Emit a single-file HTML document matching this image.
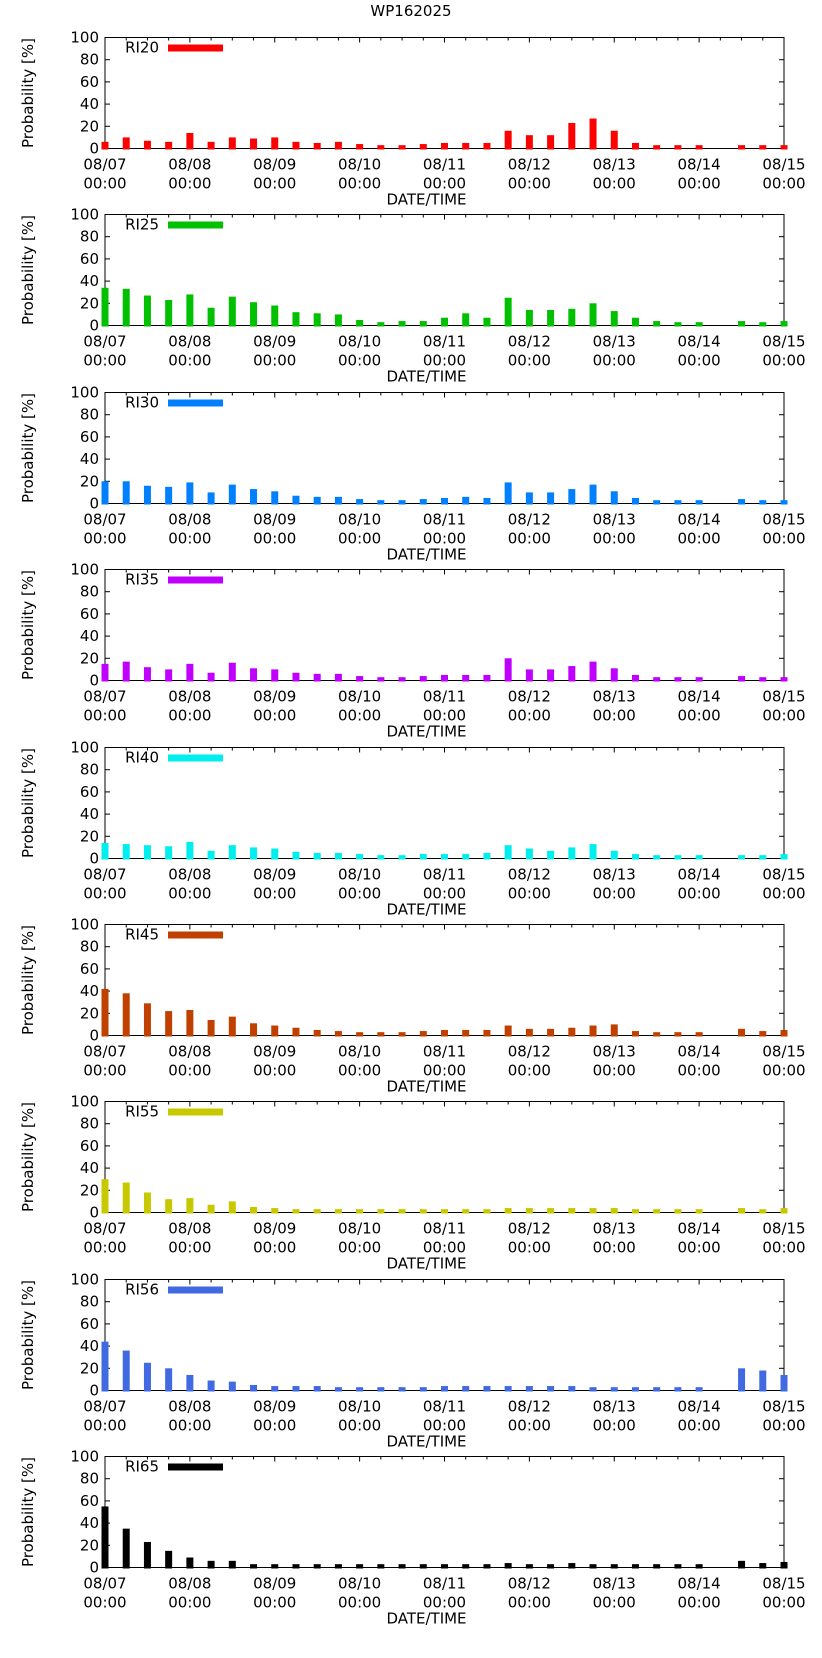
<!DOCTYPE html>
<html><head><meta charset="utf-8"><style>
body{margin:0;background:#fff;}
svg text{font-family:"DejaVu Sans","Liberation Sans",sans-serif;fill:#000;}
</style></head><body>
<svg id="c" width="822" height="1653" xmlns="http://www.w3.org/2000/svg">
<text x="411" y="16" font-size="15" text-anchor="middle">WP162025</text>
</svg>
<script>
const categories = ["08/07 00:00","08/08 00:00","08/09 00:00","08/10 00:00","08/11 00:00","08/12 00:00","08/13 00:00","08/14 00:00","08/15 00:00"];
const yTicks = [0,20,40,60,80,100];
const seriesNames = ["RI20","RI25","RI30","RI35","RI40","RI45","RI55","RI56","RI65"];
const seriesColors = ["#ff0000","#00c000","#0080ff","#c000ff","#00eeee","#c04000","#c8c800","#4169e1","#000000"];
const ri20 = [6,10,7,6,14,6,10,9,10,6,5,6,4,3,3,4,5,5,5,16,12,12,23,27,16,5,3,3,3,null,3,3,3];
const ri25 = [34,33,27,23,28,16,26,21,18,12,11,10,5,3,4,4,7,11,7,25,14,14,15,20,13,7,4,3,3,null,4,3,4];
const ri30 = [20,20,16,15,19,10,17,13,11,7,6,6,4,3,3,4,5,6,5,19,10,10,13,17,11,5,3,3,3,null,4,3,3];
const ri35 = [15,17,12,10,15,7,16,11,10,7,6,6,4,3,3,4,5,5,5,20,10,10,13,17,11,5,3,3,3,null,4,3,3];
const ri40 = [14,13,12,11,15,7,12,10,9,6,5,5,4,3,3,4,4,4,5,12,9,7,10,13,7,4,3,3,3,null,3,3,4];
const ri45 = [42,38,29,22,23,14,17,11,9,7,5,4,3,3,3,4,5,5,5,9,6,6,7,9,10,4,3,3,3,null,6,4,5];
const ri55 = [30,27,18,12,13,7,10,5,4,3,3,3,3,3,3,3,3,3,3,4,4,4,4,4,4,3,3,3,3,null,4,3,4];
const ri56 = [44,36,25,20,14,9,8,5,4,4,4,3,3,3,3,3,4,4,4,4,4,4,4,3,3,3,3,3,3,null,20,18,14];
const ri65 = [55,35,23,15,9,6,6,3,3,3,3,3,3,3,3,3,3,3,3,4,3,3,4,3,3,3,3,3,3,null,6,4,5];
const allSeries = [ri20,ri25,ri30,ri35,ri40,ri45,ri55,ri56,ri65];

const NS="http://www.w3.org/2000/svg";
const svg=document.getElementById('c');
const L=105,R=784,PH=111,TOP0=37,STEP=177.4,NSLOT=32;
function xScale(i){return L+(R-L)*i/NSLOT;}
function mk(tag,attrs,parent){const e=document.createElementNS(NS,tag);for(const k in attrs)e.setAttribute(k,attrs[k]);(parent||svg).appendChild(e);return e;}

seriesNames.forEach((name,p)=>{
  const top=Math.round(TOP0+p*STEP)+0.5, bot=top+PH;
  const yScale=v=>bot-v/100*PH;
  const g=mk('g',{});
  
  
  const fr=mk('rect',{x:L,y:top,width:R-L,height:PH,fill:'none',stroke:'#000','stroke-width':1},g);
  
  
  yTicks.forEach(t=>{
    const y=yScale(t);
    mk('line',{x1:L,x2:L+5,y1:y,y2:y,stroke:'#000'},g);
    mk('line',{x1:R,x2:R-5,y1:y,y2:y,stroke:'#000'},g);
    const tx=mk('text',{x:L-6,y:y+5,'font-size':15,'text-anchor':'end'},g);
    tx.textContent=t;
    
    
  });
  for(let i=0;i<=NSLOT;i++){
    const x=xScale(i), len=(i%4===0)?5:3;
    mk('line',{x1:x,x2:x,y1:top,y2:top+len,stroke:'#000'},g);
  }
  allSeries[p].forEach((v,i)=>{
    if(v===null)return;
    const r=mk('rect',{x:xScale(i)-3.5,y:yScale(v),width:7,height:bot-yScale(v)+1,fill:seriesColors[p]},g);
    
    
  });
  categories.forEach((c,k)=>{
    const x=xScale(k*4);
    const parts=c.split(' ');
    const t1=mk('text',{x:x,y:bot+21,'font-size':15,'text-anchor':'middle'},g);
    t1.textContent=parts[0];
    
    
    const t2=mk('text',{x:x,y:bot+40,'font-size':15,'text-anchor':'middle'},g);
    t2.textContent=parts[1];
    
    
  });
  const xt=mk('text',{x:(L+R)/2-18,y:bot+56,'font-size':15,'text-anchor':'middle'},g);
  xt.textContent='DATE/TIME';
  
  
  const yt=mk('text',{x:0,y:0,'font-size':15,'text-anchor':'middle',transform:`translate(33,${top+PH/2}) rotate(-90)`},g);
  yt.textContent='Probability [%]';
  
  
  const lt=mk('text',{x:159,y:top+15,'font-size':15,'text-anchor':'end'},g);
  lt.textContent=name;
  
  
  const lr=mk('rect',{x:168,y:top+7,width:55,height:7,fill:seriesColors[p]},g);
  
  
});
</script>
</body></html>
